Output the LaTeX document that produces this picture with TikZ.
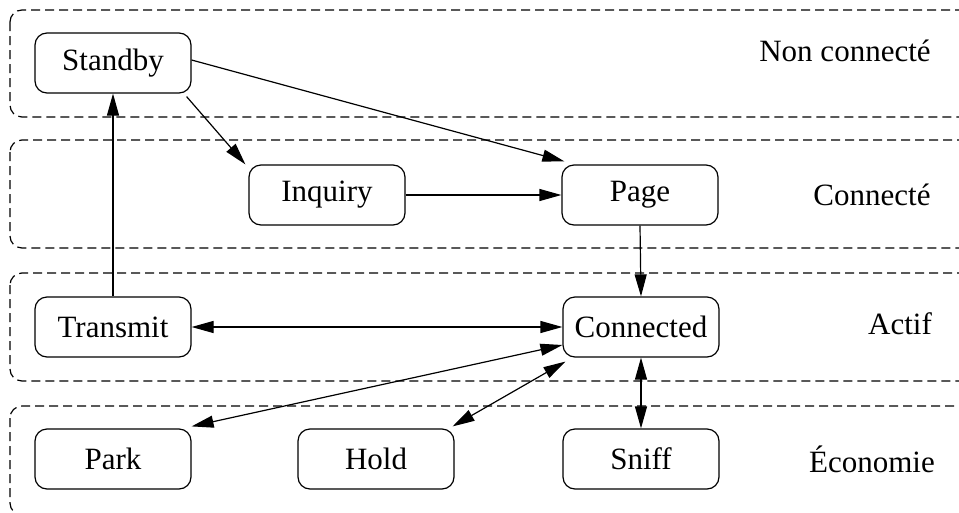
\documentclass[tikz,border=0pt]{standalone}
\usepackage{fontspec}
\setmainfont{Liberation Serif}
\usetikzlibrary{arrows.meta}
\begin{document}
\begin{tikzpicture}[x=1pt,y=-1pt,
  state/.style={draw, line width=1.2pt, rounded corners=12pt, minimum width=156pt, minimum height=60pt, inner sep=0pt, font=\fontsize{31}{36}\selectfont},
  lvl/.style={font=\fontsize{31}{36}\selectfont, inner sep=0pt},
  zone/.style={draw, line width=1.2pt, dash pattern=on 9pt off 5pt, rounded corners=12pt},
  conn/.style={line width=1.2pt, -{Triangle[length=22pt,width=12pt]}},
  biconn/.style={line width=1.2pt, {Triangle[length=22pt,width=12pt]}-{Triangle[length=22pt,width=12pt]}}]
\useasboundingbox (0,0) rectangle (959,512);
\begin{scope}
\clip (0,0) rectangle (959,512);
\draw[zone] (10,10) rectangle (975,117);
\draw[zone] (10,140) rectangle (975,248);
\draw[zone] (10,273) rectangle (975,381);
\draw[zone] (10,406) rectangle (975,515);
\end{scope}
\node[state] (standby) at (113,63) {Standby};
\node[state] (inquiry) at (327,195) {Inquiry};
\node[state] (page) at (640,195) {Page};
\node[state] (transmit) at (113,327) {Transmit};
\node[state] (connected) at (641,327) {Connected};
\node[state] (park) at (113,459) {Park};
\node[state] (hold) at (376,459) {Hold};
\node[state] (sniff) at (641,459) {Sniff};
\node[lvl] (l1) at (845,51) {Non connecté};
\node[lvl] (l2) at (872,195) {Connecté};
\node[lvl] (l3) at (900,324) {Actif};
\node[lvl] (l4) at (872,459) {Économie};
\draw[conn] ([yshift=3pt]standby.east) -- ([xshift=3pt,yshift=3pt]page.north west);
\draw[conn] ([xshift=-5pt,yshift=-3pt]standby.south east) -- ([xshift=-3pt]inquiry.north west);
\draw[conn] (inquiry.east) -- (page.west);
\draw[conn] (page.south) -- (connected.north);
\draw[conn] (transmit.north) -- (standby.south);
\draw[biconn] (transmit.east) -- (connected.west);
\draw[biconn] ([yshift=-18pt]connected.west) -- ([yshift=2pt]park.north east);
\draw[biconn] ([xshift=3pt,yshift=-4pt]connected.south west) -- ([xshift=-2pt,yshift=2pt]hold.north east);
\draw[biconn] (connected.south) -- (sniff.north);
\end{tikzpicture}
\end{document}
